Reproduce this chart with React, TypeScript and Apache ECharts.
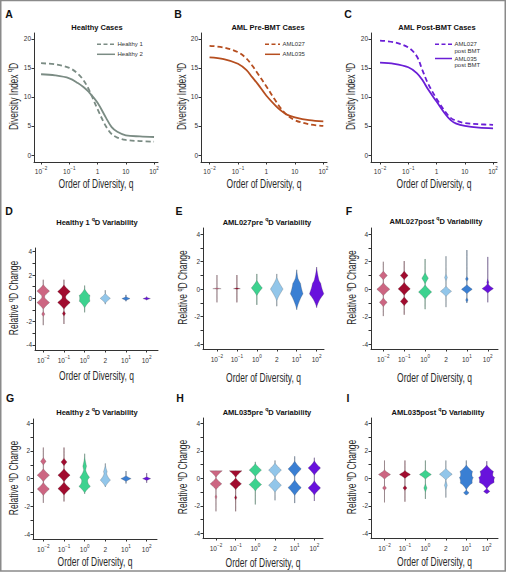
import React, { useEffect, useRef } from 'react';
import * as echarts from 'echarts';

// ---------------- data ----------------
const qValues = [0.01, 0.0316, 0.1, 0.2, 0.316, 0.5, 1, 2, 3.16, 5, 10, 31.6, 100];
const healthy1 = [15.8, 15.6, 15.0, 14.0, 12.9, 11.2, 7.9, 4.9, 3.6, 3.0, 2.6, 2.4, 2.3];
const healthy2 = [13.9, 13.7, 13.2, 12.4, 11.7, 10.8, 9.0, 6.4, 4.8, 4.0, 3.4, 3.2, 3.1];
const aml027pre = [18.8, 18.5, 17.7, 16.6, 15.4, 14.0, 11.8, 9.5, 8.1, 7.0, 6.0, 5.3, 5.0];
const aml035pre = [16.8, 16.5, 15.7, 14.6, 13.4, 12.2, 10.2, 8.6, 7.7, 7.0, 6.5, 6.0, 5.8];
const aml027post = [19.7, 19.4, 18.5, 17.0, 14.6, 12.3, 9.7, 7.5, 6.4, 5.9, 5.5, 5.3, 5.2];
const aml035post = [15.9, 15.7, 15.1, 14.1, 12.9, 11.3, 9.2, 7.1, 6.0, 5.4, 5.0, 4.7, 4.6];

const lineTickValues = [-2, -1, 0, 1, 2];
const lineTickLabels = ['10^−2', '10^−1', '1', '10', '10^2'];
const lineYTicks = [0, 5, 10, 15, 20];

const violinCategories = ['10^−2', '10^−1', '10^0', '2', '10^1', '10^2'];
const violinYLabels = [-4, -2, 0, 2, 4];
const violinYTicks = [-4, -3, -2, -1, 0, 1, 2, 3, 4];

// each violin: lo, hi (range of the thin line), lobes: [centre, half width (fraction of category step), half height]
type Violin = { lo: number; hi: number; lobes: number[][] };
const violinD: Violin[] = [
  { lo: -2.3, hi: 1.6, lobes: [[0.62, 0.31, 0.6], [-0.36, 0.31, 0.6], [-1.35, 0.08, 0.25]] },
  { lo: -2.2, hi: 1.6, lobes: [[0.58, 0.31, 0.6], [-0.36, 0.31, 0.6], [-1.3, 0.08, 0.25]] },
  { lo: -1.2, hi: 1.1, lobes: [[0.25, 0.24, 0.6], [-0.25, 0.24, 0.6]] },
  { lo: -0.5, hi: 0.7, lobes: [[0.0, 0.25, 0.45]] },
  { lo: -0.25, hi: 0.3, lobes: [[-0.02, 0.2, 0.18]] },
  { lo: -0.15, hi: 0.15, lobes: [[-0.02, 0.18, 0.12]] },
];
const violinE: Violin[] = [
  { lo: -0.97, hi: 1.02, lobes: [[0.03, 0.25, 0.04]] },
  { lo: -0.97, hi: 1.02, lobes: [[0.03, 0.2, 0.05]] },
  { lo: -1.15, hi: 1.1, lobes: [[0.08, 0.28, 0.6]] },
  { lo: -1.25, hi: 1.1, lobes: [[0.0, 0.32, 0.9]] },
  { lo: -1.5, hi: 1.4, lobes: [[-0.35, 0.3, 1.15], [0.4, 0.12, 1.0]] },
  { lo: -1.35, hi: 1.6, lobes: [[-0.35, 0.32, 1.0], [0.4, 0.16, 1.2]] },
];
const violinF: Violin[] = [
  { lo: -1.95, hi: 2.0, lobes: [[1.0, 0.2, 0.35], [0.0, 0.32, 0.5], [-0.95, 0.19, 0.35]] },
  { lo: -1.85, hi: 2.05, lobes: [[1.0, 0.19, 0.35], [0.03, 0.3, 0.5], [-0.88, 0.19, 0.35]] },
  { lo: -1.45, hi: 2.2, lobes: [[0.8, 0.16, 0.45], [-0.2, 0.32, 0.55]] },
  { lo: -1.3, hi: 2.4, lobes: [[-0.15, 0.27, 0.4], [0.85, 0.07, 0.3]] },
  { lo: -1.0, hi: 2.85, lobes: [[0.0, 0.27, 0.35], [0.75, 0.07, 0.2], [-0.78, 0.06, 0.2]] },
  { lo: -0.95, hi: 2.35, lobes: [[0.05, 0.28, 0.35], [0.5, 0.05, 0.3]] },
];
const violinG: Violin[] = [
  { lo: -1.75, hi: 2.25, lobes: [[1.25, 0.14, 0.3], [0.25, 0.3, 0.5], [-0.75, 0.3, 0.5]] },
  { lo: -1.65, hi: 2.25, lobes: [[1.2, 0.15, 0.3], [0.25, 0.3, 0.5], [-0.72, 0.3, 0.5]] },
  { lo: -1.1, hi: 1.8, lobes: [[0.9, 0.09, 0.7], [0.1, 0.24, 0.55], [-0.55, 0.28, 0.5]] },
  { lo: -0.6, hi: 1.1, lobes: [[-0.1, 0.25, 0.5], [0.5, 0.09, 0.5]] },
  { lo: -0.35, hi: 0.55, lobes: [[0.0, 0.25, 0.22]] },
  { lo: -0.3, hi: 0.4, lobes: [[0.0, 0.2, 0.15]] },
];
const violinH: Violin[] = [
  { lo: -2.4, hi: 0.55, lobes: [[0.55, 0.32, 0.5], [-0.4, 0.3, 0.45], [-1.35, 0.05, 0.2]] },
  { lo: -2.4, hi: 0.55, lobes: [[0.55, 0.32, 0.5], [-0.4, 0.3, 0.45], [-1.4, 0.06, 0.2]] },
  { lo: -1.9, hi: 1.2, lobes: [[0.6, 0.32, 0.5], [-0.45, 0.32, 0.5]] },
  { lo: -1.6, hi: 1.3, lobes: [[0.6, 0.33, 0.55], [-0.5, 0.33, 0.55]] },
  { lo: -1.8, hi: 1.6, lobes: [[0.68, 0.34, 0.6], [-0.68, 0.34, 0.6]] },
  { lo: -1.65, hi: 1.5, lobes: [[0.75, 0.32, 0.55], [-0.7, 0.32, 0.55]] },
];
const violinI: Violin[] = [
  { lo: -1.75, hi: 1.3, lobes: [[0.28, 0.3, 0.35], [-0.7, 0.1, 0.2]] },
  { lo: -1.7, hi: 1.3, lobes: [[0.28, 0.28, 0.3], [-0.7, 0.1, 0.2]] },
  { lo: -1.5, hi: 1.3, lobes: [[0.28, 0.3, 0.35], [-0.7, 0.08, 0.35]] },
  { lo: -1.4, hi: 1.3, lobes: [[0.3, 0.32, 0.45], [-0.5, 0.07, 0.4]] },
  { lo: -1.2, hi: 1.3, lobes: [[0.5, 0.3, 0.5], [0.05, 0.3, 0.5], [-0.35, 0.26, 0.5], [-1.05, 0.14, 0.22]] },
  { lo: -1.1, hi: 1.25, lobes: [[0.5, 0.32, 0.5], [0.05, 0.32, 0.5], [-0.3, 0.3, 0.5], [-0.95, 0.16, 0.22]] },
];

// ---------------- styles / layout ----------------
const FONT = "'Liberation Sans', Arial, sans-serif";
const AXIS = '#333';
const violinColors = ['#cc6682', '#a10c2f', '#3dd28f', '#92c6ea', '#3a7fd3', '#6812dc'];

const lineGrids = [
  { left: 34, top: 33, width: 124, height: 129, xMin: -2.25, xMax: 2.14, color: '#7b8c84', nameY: 183, yNameX: 12.5 },
  { left: 201, top: 33, width: 126, height: 129, xMin: -2.3, xMax: 2.13, color: '#b64e1f', nameY: 183, yNameX: 181 },
  { left: 371, top: 33, width: 126, height: 129, xMin: -2.32, xMax: 2.14, color: '#6a1ed6', nameY: 183, yNameX: 350 },
];
const lineSeriesSets = [
  [{ name: 'Healthy 1', data: healthy1, dashed: true }, { name: 'Healthy 2', data: healthy2, dashed: false }],
  [{ name: 'AML027', data: aml027pre, dashed: true }, { name: 'AML035', data: aml035pre, dashed: false }],
  [{ name: 'AML027 post BMT', data: aml027post, dashed: true }, { name: 'AML035 post BMT', data: aml035post, dashed: false }],
];
const violinGrids = [
  { left: 35, top: 248, width: 123, height: 102, xMin: -0.4, xMax: 5.55, yMin: -4.43, yMax: 4.32, nameY: 375, yNameX: 13.3, data: violinD },
  { left: 203, top: 228, width: 121, height: 121, xMin: -0.7, xMax: 5.37, yMin: -4.36, yMax: 4.44, nameY: 377.7, yNameX: 182, data: violinE },
  { left: 371, top: 228, width: 127, height: 121, xMin: -0.59, xMax: 5.49, yMin: -4.34, yMax: 4.45, nameY: 377.7, yNameX: 351.3, data: violinF },
  { left: 33, top: 419, width: 124, height: 120, xMin: -0.5, xMax: 5.5, yMin: -4.36, yMax: 4.31, nameY: 561.7, yNameX: 12.8, data: violinG },
  { left: 203, top: 418, width: 120, height: 120, xMin: -0.66, xMax: 5.44, yMin: -4.34, yMax: 4.39, nameY: 562.5, yNameX: 182, data: violinH },
  { left: 371, top: 418, width: 127, height: 120, xMin: -0.66, xMax: 5.55, yMin: -4.34, yMax: 4.39, nameY: 561.7, yNameX: 351.3, data: violinI },
];

const xName = 'Order of Diversity, q';
const lineYName = '{n|Diversity Index }{s|q}{n|D}';
const violinYName = '{n|Relative }{s|q}{n|D Change}';

const panelTitles = [
  '{t|Healthy Cases}', '{t|AML Pre-BMT Cases}', '{t|AML Post-BMT Cases}',
  '{t|Healthy 1 }{s|q}{t|D Variability}', '{t|AML027pre }{s|q}{t|D Variability}', '{t|AML027post }{s|q}{t|D Variability}',
  '{t|Healthy 2 }{s|q}{t|D Variability}', '{t|AML035pre }{s|q}{t|D Variability}', '{t|AML035post }{s|q}{t|D Variability}',
];
const titlePos = [[97, 26], [268, 26], [437, 26], [97, 221], [267, 221], [436, 220], [97, 411], [267, 411], [438, 411]];
const panelLetters = ['A', 'B', 'C', 'D', 'E', 'F', 'G', 'H', 'I'];
const letterPos = [[9, 14], [178, 14], [348, 14], [9, 211], [179, 211], [349, 211], [10, 398], [180, 398], [348, 398]];

const supLabel = (s: string) => {
  const [b, e] = s.split('^');
  return e ? `{b|${b}}{s|${e}}` : `{b|${b}}`;
};
const labelRich = {
  b: { fontSize: 6.5, fontFamily: FONT, color: AXIS, lineHeight: 9, verticalAlign: 'bottom' },
  s: { fontSize: 4.6, fontFamily: FONT, color: AXIS, lineHeight: 5, verticalAlign: 'top' },
};
const nameRich = {
  n: { fontSize: 12.5, fontFamily: FONT, fill: '#2a2a2a', lineHeight: 14, verticalAlign: 'bottom' },
  s: { fontSize: 8, fontFamily: FONT, fill: '#2a2a2a', lineHeight: 7, verticalAlign: 'top' },
};
const NAME_SCALE = 0.68;

function violinRenderer(list: Violin[]) {
  return (params: any, api: any) => {
    const i = api.value(0);
    const v = list[i];
    const band = api.size([1, 0])[0];
    const cx = api.coord([i, 0])[0];
    const color = violinColors[i];
    const steps = 90;
    const right: number[][] = [];
    const left: number[][] = [];
    for (let k = 0; k <= steps; k++) {
      const y = v.hi - ((v.hi - v.lo) * k) / steps;
      let w = 0;
      for (const [c, hw, hh] of v.lobes) {
        const t = Math.abs(y - c) / hh;
        if (t < 1) w += hw * Math.pow(1 - t, 1.3);
      }
      const py = api.coord([i, y])[1];
      right.push([cx + w * band, py]);
      left.unshift([cx - w * band, py]);
    }
    const top = api.coord([i, v.hi])[1];
    const bot = api.coord([i, v.lo])[1];
    return {
      type: 'group',
      children: [
        { type: 'line', shape: { x1: cx, y1: top, x2: cx, y2: bot }, style: { stroke: color, lineWidth: 0.9, opacity: 0.4 } },
        { type: 'line', shape: { x1: cx, y1: top, x2: cx, y2: bot }, style: { stroke: '#888', lineWidth: 0.5, opacity: 0.5 } },
        { type: 'polygon', shape: { points: right.concat(left) }, style: { fill: color, stroke: 'rgba(70,70,70,0.6)', lineWidth: 0.4 } },
      ],
    };
  };
}

function buildOption() {
  const grid: any[] = [];
  const xAxis: any[] = [];
  const yAxis: any[] = [];
  const series: any[] = [];
  const graphic: any[] = [];
  const axisLine = { onZero: false, lineStyle: { color: AXIS, width: 1 } };
  const axisTickBase = { length: 2.5, lineStyle: { color: AXIS, width: 1 } };

  const addNames = (g: any, yName: string) => {
    graphic.push({
      type: 'text', silent: true, x: g.left + g.width / 2, y: g.nameY, scaleX: NAME_SCALE,
      style: { text: xName, align: 'center', verticalAlign: 'middle', fontSize: 12.5, fontFamily: FONT, fill: '#2a2a2a' },
    });
    graphic.push({
      type: 'text', silent: true, x: g.yNameX, y: g.top + g.height / 2 - 1, rotation: Math.PI / 2, scaleX: NAME_SCALE,
      style: { text: yName, align: 'center', verticalAlign: 'middle', rich: nameRich },
    });
  };

  lineGrids.forEach((g, idx) => {
    grid.push({ left: g.left, top: g.top, width: g.width, height: g.height });
    xAxis.push({
      type: 'value', gridIndex: idx, min: g.xMin, max: g.xMax,
      axisLine, splitLine: { show: false },
      axisTick: { ...axisTickBase, customValues: lineTickValues },
      axisLabel: {
        customValues: lineTickValues, margin: 4,
        formatter: (val: number) => supLabel(lineTickLabels[lineTickValues.indexOf(Math.round(val))] || ''),
        rich: labelRich,
      },
    });
    yAxis.push({
      type: 'value', gridIndex: idx, min: -1.2, max: 21,
      axisLine, splitLine: { show: false },
      axisTick: { ...axisTickBase, customValues: lineYTicks },
      axisLabel: { customValues: lineYTicks, margin: 3, fontSize: 6.5, fontFamily: FONT, color: AXIS },
    });
    addNames(g, lineYName);
    lineSeriesSets[idx].forEach((s) => {
      series.push({
        type: 'line', name: s.name, xAxisIndex: idx, yAxisIndex: idx,
        data: qValues.map((q, k) => [Math.log10(q), s.data[k]]),
        smooth: 0.35, symbol: 'none', silent: true,
        lineStyle: { color: g.color, width: 1.8, type: s.dashed ? [5, 3] : 'solid' },
      });
    });
  });

  violinGrids.forEach((g, j) => {
    const idx = j + 3;
    grid.push({ left: g.left, top: g.top, width: g.width, height: g.height });
    const catIdx = violinCategories.map((_, k) => k);
    xAxis.push({
      type: 'value', gridIndex: idx, min: g.xMin, max: g.xMax,
      axisLine, splitLine: { show: false },
      axisTick: { ...axisTickBase, customValues: catIdx },
      axisLabel: {
        customValues: catIdx, margin: 5,
        formatter: (val: number) => supLabel(violinCategories[Math.round(val)] || ''),
        rich: labelRich,
      },
    });
    yAxis.push({
      type: 'value', gridIndex: idx, min: g.yMin, max: g.yMax,
      axisLine, splitLine: { show: false },
      axisTick: { ...axisTickBase, customValues: violinYTicks },
      axisLabel: { customValues: violinYLabels, margin: 3, fontSize: 6.5, fontFamily: FONT, color: AXIS },
    });
    addNames(g, violinYName);
    series.push({
      type: 'custom', xAxisIndex: idx, yAxisIndex: idx, silent: true,
      data: g.data.map((v, k) => [k, v.lo, v.hi]),
      encode: { x: 0, y: [1, 2] },
      renderItem: violinRenderer(g.data),
    });
  });

  graphic.push({
    type: 'rect', shape: { x: 0.75, y: 0.6, width: 504.5, height: 570.4 },
    style: { fill: 'none', stroke: '#8a8a8a', lineWidth: 1.5 }, silent: true,
  });
  panelTitles.forEach((t, k) => {
    graphic.push({
      type: 'text', x: titlePos[k][0], y: titlePos[k][1], silent: true,
      style: {
        text: t, align: 'center', verticalAlign: 'middle',
        rich: {
          t: { fontSize: 7.5, fontWeight: 'bold', fontFamily: FONT, fill: '#111', lineHeight: 10, verticalAlign: 'bottom' },
          s: { fontSize: 5.2, fontWeight: 'bold', fontFamily: FONT, fill: '#111', lineHeight: 5, verticalAlign: 'top' },
        },
      },
    });
  });
  panelLetters.forEach((l, k) => {
    graphic.push({
      type: 'text', x: letterPos[k][0], y: letterPos[k][1], silent: true,
      style: { text: l, align: 'center', verticalAlign: 'middle', fontSize: 10.5, fontWeight: 'bold', fontFamily: FONT, fill: '#111' },
    });
  });
  // legends
  const legendDefs = [
    { x1: 97, x2: 115, color: lineGrids[0].color, items: [{ y: 44.3, dashed: true, lines: ['Healthy 1'] }, { y: 54.3, dashed: false, lines: ['Healthy 2'] }] },
    { x1: 265, x2: 280, color: lineGrids[1].color, items: [{ y: 44.3, dashed: true, lines: ['AML027'] }, { y: 54.3, dashed: false, lines: ['AML035'] }] },
    { x1: 435, x2: 452, color: lineGrids[2].color, items: [{ y: 44.3, dashed: true, lines: ['AML027', 'post BMT'] }, { y: 58.5, dashed: false, lines: ['AML035', 'post BMT'] }] },
  ];
  legendDefs.forEach((L) => {
    L.items.forEach((it) => {
      graphic.push({
        type: 'line', silent: true, shape: { x1: L.x1, y1: it.y, x2: L.x2, y2: it.y },
        style: { stroke: L.color, lineWidth: 1.5, lineDash: it.dashed ? [4, 2.5] : null },
      });
      it.lines.forEach((txt, n) => {
        graphic.push({
          type: 'text', silent: true, x: L.x2 + 2.5, y: it.y + n * 6.6,
          style: { text: txt, align: 'left', verticalAlign: 'middle', fontSize: 6, fontFamily: FONT, fill: '#333' },
        });
      });
    });
  });

  return { animation: false, backgroundColor: '#fff', grid, xAxis, yAxis, series, graphic };
}

export default function App() {
  const ref = useRef<HTMLDivElement>(null);
  useEffect(() => {
    if (!ref.current) return;
    const chart = echarts.init(ref.current, undefined, { renderer: 'svg' });
    chart.setOption(buildOption() as any);
    return () => chart.dispose();
  }, []);
  return <div ref={ref} style={{ position: 'absolute', left: 0, top: 0, width: 507, height: 573 }} />;
}
